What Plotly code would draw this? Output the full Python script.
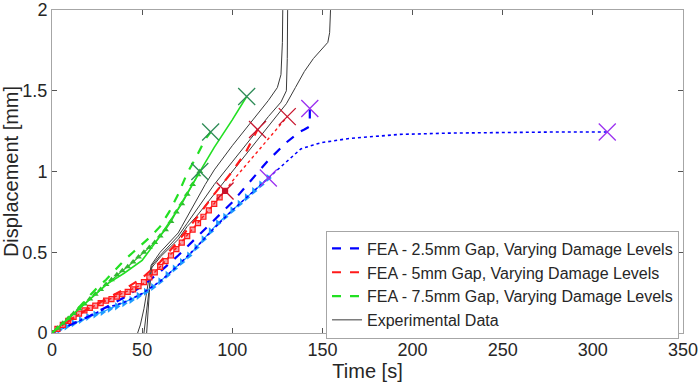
import plotly.graph_objects as go

# ---------------- data ----------------
# 2.5 mm gap
b_dash_t = [0, 10, 20, 30, 40, 50, 60, 70, 80, 90, 100, 110, 120, 130, 138, 140, 143, 143]
b_dash_d = [0, 0.05, 0.10, 0.16, 0.22, 0.29, 0.38, 0.48, 0.59, 0.70, 0.81, 0.94, 1.07, 1.18,
            1.25, 1.26, 1.28, 1.39]

b_tri_t = [0, 4, 8, 12, 16, 20, 24, 28, 32, 36, 40, 44, 48, 52, 56, 60, 64, 68, 72, 76, 80,
           84, 88, 92, 96, 100, 104, 108, 112, 116, 120]
b_tri_d = [0, 0.02, 0.04, 0.06, 0.08, 0.10, 0.115, 0.13, 0.15, 0.165, 0.185, 0.205, 0.23, 0.255,
           0.285, 0.32, 0.36, 0.40, 0.44, 0.48, 0.53, 0.58, 0.63, 0.68, 0.72, 0.76, 0.80, 0.84,
           0.88, 0.92, 0.96]

b_dot_t = [0, 10, 20, 30, 40, 50, 60, 70, 80, 90, 100, 110, 120, 130, 138, 145, 150, 165, 193,
           220, 250, 280, 308]
b_dot_d = [0, 0.05, 0.10, 0.155, 0.19, 0.245, 0.32, 0.42, 0.53, 0.65, 0.76, 0.86, 0.96, 1.06,
           1.14, 1.165, 1.18, 1.205, 1.23, 1.238, 1.243, 1.245, 1.245]

# 5 mm gap
r_dash_t = [0, 10, 20, 30, 40, 50, 60, 70, 80, 90, 100, 108, 114]
r_dash_d = [0, 0.08, 0.15, 0.21, 0.27, 0.34, 0.44, 0.57, 0.71, 0.86, 1.00, 1.13, 1.26]

r_sq_t = [0, 3, 6, 9, 12, 15, 18, 21, 24, 27, 30, 33, 36, 39, 42, 45, 48, 51, 54, 57, 60, 63,
          66, 69, 72, 75, 78, 81, 84, 87, 90, 93, 96]
r_sq_d = [0, 0.025, 0.05, 0.075, 0.10, 0.12, 0.14, 0.155, 0.17, 0.185, 0.20, 0.21, 0.225, 0.24,
          0.255, 0.27, 0.29, 0.315, 0.345, 0.375, 0.41, 0.445, 0.48, 0.52, 0.56, 0.60, 0.64,
          0.68, 0.72, 0.76, 0.80, 0.84, 0.88]

r_sol_t = [0, 10, 20, 30, 40, 50, 60, 70, 80, 90, 96, 100, 110, 120, 130.5]
r_sol_d = [0, 0.08, 0.15, 0.20, 0.25, 0.30, 0.41, 0.54, 0.67, 0.80, 0.88, 0.94, 1.07, 1.20, 1.34]

# 7.5 mm gap
g_dash_t = [0, 5, 10, 15, 20, 25, 30, 35, 40, 45, 50, 55, 60, 65, 70, 75, 80, 85, 88]
g_dash_d = [0, 0.05, 0.10, 0.16, 0.22, 0.28, 0.33, 0.39, 0.45, 0.50, 0.55, 0.60, 0.66, 0.75,
            0.86, 0.99, 1.09, 1.20, 1.245]

g_tri_t = [0, 3, 6, 9, 12, 15, 18, 21, 24, 27, 30, 33, 36, 39, 42, 45, 48, 51, 54, 57, 60, 63,
           66, 69, 72, 75, 78, 81, 82]
g_tri_d = [0, 0.03, 0.06, 0.09, 0.12, 0.15, 0.18, 0.21, 0.24, 0.27, 0.30, 0.33, 0.36, 0.385,
           0.41, 0.44, 0.47, 0.50, 0.53, 0.56, 0.60, 0.64, 0.69, 0.75, 0.80, 0.86, 0.92, 0.98, 1.0]

g_sol_t = [0, 10, 20, 30, 40, 50, 60, 70, 80, 82, 90, 100, 108]
g_sol_d = [0, 0.10, 0.20, 0.30, 0.37, 0.45, 0.60, 0.77, 0.96, 1.00, 1.15, 1.32, 1.465]

# experimental
e1_t = [47.5, 49, 51, 53, 55, 60, 65, 70, 72, 75, 80, 85, 90, 100, 110, 120, 125, 127, 127.8, 128]
e1_d = [0, 0.05, 0.15, 0.30, 0.42, 0.50, 0.56, 0.62, 0.66, 0.72, 0.82, 0.92, 1.01, 1.16, 1.30,
        1.44, 1.52, 1.60, 1.80, 2.0]
e2_t = [51, 52, 53, 54, 55.5, 60, 70, 75, 80, 90, 100, 110, 120, 127, 130, 130.5, 130.7]
e2_d = [0, 0.10, 0.20, 0.30, 0.42, 0.48, 0.60, 0.68, 0.76, 0.92, 1.06, 1.20, 1.34, 1.43, 1.50,
        1.70, 2.0]
e3_t = [52.5, 53, 54, 55, 60, 70, 75, 80, 90, 100, 110, 120, 130, 135, 140, 145, 150, 153, 154,
        154.5]
e3_d = [0, 0.10, 0.25, 0.40, 0.47, 0.58, 0.66, 0.72, 0.86, 1.00, 1.14, 1.28, 1.42, 1.52, 1.62,
        1.70, 1.76, 1.80, 1.86, 2.0]

legend_names = ["FEA - 2.5mm Gap, Varying Damage Levels",
                "FEA - 5mm Gap, Varying Damage Levels",
                "FEA - 7.5mm Gap, Varying Damage Levels",
                "Experimental Data"]

x_ticks = [0, 50, 100, 150, 200, 250, 300, 350]
y_ticks = [0, 0.5, 1, 1.5, 2]
y_tick_text = ["0", "0.5", "1", "1.5", "2"]

# ---------------- figure ----------------
BLUE = "#0000FF"
CYAN = "#1E9BFF"
RED = "#FF1A1A"
GREEN = "#22E022"
BLACK = "#3A3A3A"
X_PURPLE = "#9B30F0"
X_RED = "#C8142D"
X_GREEN = "#2E8B57"

fig = go.Figure()


def line(t, d, color, dash="solid", width=1.5, name=None, rank=None, mode="lines", marker=None):
    fig.add_trace(go.Scatter(
        x=t, y=d, mode=mode, name=name, showlegend=name is not None,
        legendrank=rank if rank is not None else 1000,
        line=dict(color=color, dash=dash, width=width),
        marker=marker, hoverinfo="skip"))


# experimental
for i, (t, d) in enumerate([(e1_t, e1_d), (e2_t, e2_d), (e3_t, e3_d)]):
    line(t, d, BLACK, width=1, name=legend_names[3] if i == 0 else None, rank=4)

# blue
line(b_tri_t, b_tri_d, CYAN, width=1.2, mode="lines+markers",
     marker=dict(symbol="triangle-right", size=7, color=CYAN))
line(b_dot_t, b_dot_d, BLUE, dash="dot", width=1.6)
line(b_dash_t, b_dash_d, BLUE, dash="dash", width=2.2, name=legend_names[0], rank=1)

# red
line(r_sq_t, r_sq_d, RED, width=1.2, mode="lines+markers",
     marker=dict(symbol="square", size=5, color="#F6A0A8", line=dict(color=RED, width=1.2)))
line(r_sol_t, r_sol_d, RED, dash="dot", width=1.4)
line(r_dash_t, r_dash_d, RED, dash="dash", width=2.2, name=legend_names[1], rank=2)

# green
line(g_tri_t, g_tri_d, "#33B833", width=1.2, mode="lines+markers",
     marker=dict(symbol="triangle-up", size=6, color="#33B833"))
line(g_sol_t, g_sol_d, GREEN, width=1.6)
line(g_dash_t, g_dash_d, GREEN, dash="dash", width=2.2, name=legend_names[2], rank=3)

# end markers
ends = [
    (b_dash_t, b_dash_d, X_PURPLE), (b_tri_t, b_tri_d, X_PURPLE), (b_dot_t, b_dot_d, X_PURPLE),
    (r_dash_t, r_dash_d, X_RED), (r_sq_t, r_sq_d, X_RED), (r_sol_t, r_sol_d, X_RED),
    (g_dash_t, g_dash_d, X_GREEN), (g_tri_t, g_tri_d, X_GREEN), (g_sol_t, g_sol_d, X_GREEN),
]
for t, d, c in ends:
    fig.add_trace(go.Scatter(x=[t[-1]], y=[d[-1]], mode="markers", showlegend=False,
                             hoverinfo="skip",
                             marker=dict(symbol="x-thin-open", size=17, color=c,
                                         line=dict(color=c, width=1.3))))
fig.add_trace(go.Scatter(x=[r_sq_t[-1]], y=[r_sq_d[-1]], mode="markers", showlegend=False,
                         hoverinfo="skip", marker=dict(symbol="circle", size=6, color=X_RED)))

FONT = "Liberation Sans, Arial, sans-serif"
axis_common = dict(showline=True, linecolor="#A6A6A6", linewidth=1, mirror="ticks",
                   ticks="inside", ticklen=5, tickcolor="#555555", showgrid=False,
                   zeroline=False, ticklabeloverflow="allow",
                   tickfont=dict(family=FONT, size=18, color="#262626"),
                   title_font=dict(family=FONT, size=20, color="#262626"))

fig.update_xaxes(range=[0, 350.01], tickvals=x_ticks, title_text="Time [s]",
                 title_standoff=2, automargin=False, **axis_common)
fig.update_yaxes(range=[0, 2.0005], tickvals=y_ticks, ticktext=y_tick_text,
                 title_text="Displacement [mm]", title_standoff=0, automargin=False,
                 **axis_common)

fig.update_layout(
    width=699, height=386,
    margin=dict(l=52, r=16, t=10, b=53, autoexpand=False),
    plot_bgcolor="white", paper_bgcolor="white",
    font=dict(family=FONT, color="#262626"),
    legend=dict(x=0.9937, y=0.15, xanchor="right", yanchor="middle",
                bgcolor="white", bordercolor="#A6A6A6", borderwidth=1,
                font=dict(family=FONT, size=16, color="#262626"),
                itemwidth=30, tracegroupgap=0, traceorder="normal"),
)

fig.write_html("out.html", config={"displayModeBar": False},
               post_script="document.body.style.margin='0';document.body.style.overflow='hidden';")
